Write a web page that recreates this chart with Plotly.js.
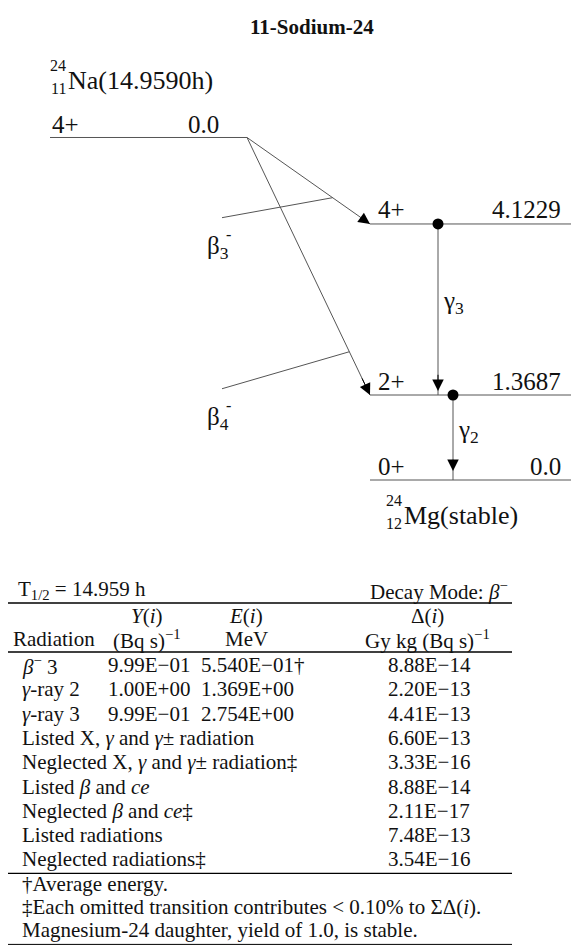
<!DOCTYPE html>
<html>
<head>
<meta charset="utf-8">
<script src="https://cdn.plot.ly/plotly-3.0.1.min.js"></script>
<style>html,body{margin:0;padding:0;background:#fff;}</style>
</head>
<body>
<div id="chart" style="width:571px;height:945px;"></div>
<script>
// ---------------- data ----------------
const chartTitle = '11-Sodium-24';
const parentMass = '24', parentZ = '11', parentSymbol = 'Na', parentHalfLife = '14.9590h';
const parentSpin = '4+', parentLevelLabel = '0.0';
const qValue = 5.5155;                       // MeV: parent level drawn at Q above daughter ground
const daughterMass = '24', daughterZ = '12', daughterSymbol = 'Mg', daughterState = 'stable';
const levelEnergy = [4.1229, 1.3687, 0.0];    // MeV
const levelSpin   = ['4+', '2+', '0+'];
const levelLabel  = ['4.1229', '1.3687', '0.0'];
const betaIndex   = ['3', '4'];
const betaTarget  = [4.1229, 1.3687];
const gammaIndex  = ['3', '2'];
const gammaFrom   = [4.1229, 1.3687];
const gammaTo     = [1.3687, 0.0];

const halfLifeText = '14.959 h';
const headerTop    = ['<i>Y</i>(<i>i</i>)', '<i>E</i>(<i>i</i>)', 'Δ(<i>i</i>)'];
const headerBottom = ['Radiation', '(Bq s)<sup>−1</sup>', 'MeV', 'Gy kg (Bq s)<sup>−1</sup>'];
const radName   = ['<i>β</i><sup>−</sup> 3', '<i>γ</i>-ray 2', '<i>γ</i>-ray 3'];
const radYield  = ['9.99E−01', '1.00E+00', '9.99E−01'];
const radEnergy = ['5.540E−01†', '1.369E+00', '2.754E+00'];
const radDelta  = ['8.88E−14', '2.20E−13', '4.41E−13'];
const sumName   = ['Listed X, <i>γ</i> and <i>γ</i>± radiation',
                   'Neglected X, <i>γ</i> and <i>γ</i>± radiation‡',
                   'Listed <i>β</i> and <i>ce</i>',
                   'Neglected <i>β</i> and <i>ce</i>‡',
                   'Listed radiations',
                   'Neglected radiations‡'];
const sumDelta  = ['6.60E−13', '3.33E−16', '8.88E−14', '2.11E−17', '7.48E−13', '3.54E−16'];
const footnotes = ['†Average energy.',
                   '‡Each omitted transition contributes &lt; 0.10% to ΣΔ(<i>i</i>).',
                   'Magnesium-24 daughter, yield of 1.0, is stable.'];

// ---------------- layout constants ----------------
const W = 571, H = 945;
const pxPerMeV = 62.1, groundPx = 480;
const py = px => 1 - px / H;                 // pixel row -> paper y
const LINE = '#555', INK = '#111';
const SERIF = 'Liberation Serif, Times New Roman, serif';
const diagFont = {family: SERIF, size: 25, color: INK};
const nucFont  = {family: SERIF, size: 26, color: INK};
const smallFont = {family: SERIF, size: 16, color: INK};
const tabFont  = {family: SERIF, size: 21, color: INK};

const parentX = [50, 247], levelX = [370, 571];
const gammaX = [438, 453];
const betaTickT = [0.696, 0.832], betaTickLeft = 222, betaTickDrop = [20, 37];

const traces = [];
const ann = [];
const shapes = [];

// levels
const lvX = [parentX[0], parentX[1], null], lvY = [qValue, qValue, null];
levelEnergy.forEach(e => { lvX.push(levelX[0], levelX[1], null); lvY.push(e, e, null); });
traces.push({x: lvX, y: lvY, mode: 'lines', line: {color: LINE, width: 1}, hoverinfo: 'skip'});

// beta transitions
betaTarget.forEach((e, i) => {
  traces.push({x: [parentX[1], levelX[0]], y: [qValue, e], mode: 'lines',
               line: {color: LINE, width: 1}, hoverinfo: 'skip'});
  const t = betaTickT[i];
  const jx = parentX[1] + t * (levelX[0] - parentX[1]);
  const jy = qValue + t * (e - qValue);
  traces.push({x: [betaTickLeft, jx], y: [jy - betaTickDrop[i] / pxPerMeV, jy], mode: 'lines',
               line: {color: LINE, width: 1}, hoverinfo: 'skip'});
  const bx = parentX[1] + 0.93 * (levelX[0] - parentX[1]);
  const by = qValue + 0.93 * (e - qValue);
  ann.push({x: levelX[0], y: e, ax: bx, ay: by, xref: 'x', yref: 'y', axref: 'x', ayref: 'y',
            showarrow: true, arrowhead: 2, arrowsize: 2.3, arrowwidth: 1, arrowcolor: '#000',
            standoff: 0, text: ''});
});

// gamma transitions
const gammaStandoff = [4, 9];
gammaFrom.forEach((e, i) => {
  traces.push({x: [gammaX[i], gammaX[i]], y: [e, gammaTo[i]], mode: 'lines',
               line: {color: LINE, width: 1}, hoverinfo: 'skip'});
  ann.push({x: gammaX[i], y: gammaTo[i], ax: gammaX[i], ay: gammaTo[i] + 0.35,
            xref: 'x', yref: 'y', axref: 'x', ayref: 'y',
            showarrow: true, arrowhead: 2, arrowsize: 2.3, arrowwidth: 1, arrowcolor: '#000',
            standoff: gammaStandoff[i], text: ''});
});
traces.push({x: gammaX, y: gammaFrom, mode: 'markers',
             marker: {color: '#000', size: 11}, hoverinfo: 'skip'});

// diagram texts
const txt = (o) => ann.push(Object.assign({showarrow: false, xref: 'x', yref: 'y', font: diagFont}, o));
txt({x: parentX[0], y: qValue, yshift: 13, text: parentSpin, xanchor: 'left', yanchor: 'middle'});
txt({x: 221, y: qValue, yshift: 13, text: parentLevelLabel, xanchor: 'right', yanchor: 'middle'});
levelEnergy.forEach((e, i) => {
  txt({x: 376, y: e, yshift: 14, text: levelSpin[i], xanchor: 'left', yanchor: 'middle'});
  txt({x: 563, y: e, yshift: 14, text: levelLabel[i], xanchor: 'right', yanchor: 'middle'});
});
// nuclide labels (paper y)
const ptxt = (o) => ann.push(Object.assign({showarrow: false, xref: 'x', yref: 'paper', font: diagFont}, o));
ptxt({x: 68, y: py(65), text: parentMass, xanchor: 'right', yanchor: 'middle', font: smallFont});
ptxt({x: 68, y: py(88), text: parentZ, xanchor: 'right', yanchor: 'middle', font: smallFont});
ptxt({x: 66, y: py(80), text: parentSymbol + '(' + parentHalfLife + ')', xanchor: 'left', yanchor: 'middle', font: nucFont});
ptxt({x: 404, y: py(500), text: daughterMass, xanchor: 'right', yanchor: 'middle', font: smallFont});
ptxt({x: 404, y: py(523), text: daughterZ, xanchor: 'right', yanchor: 'middle', font: smallFont});
ptxt({x: 402, y: py(515), text: daughterSymbol + '(' + daughterState + ')', xanchor: 'left', yanchor: 'middle', font: nucFont});
// beta labels
const betaLabelPx = [247, 418];
betaIndex.forEach((b, i) => {
  ptxt({x: 205, y: py(betaLabelPx[i]), text: 'β<sub>' + b + '</sub>', xanchor: 'left', yanchor: 'middle'});
  ptxt({x: 224, y: py(betaLabelPx[i] - 12), text: '-', xanchor: 'left', yanchor: 'middle', font: smallFont});
});
// gamma labels
const gammaLabelPx = [302, 432];
gammaIndex.forEach((g, i) => {
  ptxt({x: gammaX[i] + 3, y: py(gammaLabelPx[i]), text: 'γ<sub>' + g + '</sub>', xanchor: 'left', yanchor: 'middle'});
});

// title
ann.push({x: 312, y: py(27), xref: 'x', yref: 'paper', showarrow: false, text: '<b>' + chartTitle + '</b>',
          font: {family: SERIF, size: 21, color: INK}, xanchor: 'center', yanchor: 'middle'});

// ---------------- table ----------------
const tL = 8, tR = 512;
const colLeft = 20, colY = 147, colE = 246, colD = 427;
const ttxt = (o) => ann.push(Object.assign({showarrow: false, xref: 'x', yref: 'paper', font: tabFont, yanchor: 'middle'}, o));
ttxt({x: colLeft - 4, y: py(590), text: 'T<sub>1/2</sub> = ' + halfLifeText, xanchor: 'left'});
ttxt({x: 510, y: py(590), text: 'Decay Mode: <i>β</i><sup>−</sup>', xanchor: 'right'});
shapes.push({type: 'line', xref: 'x', yref: 'paper', x0: tL, x1: tR, y0: py(603), y1: py(603), line: {color: '#000', width: 1.4}});
[colY, colE, colD].forEach((cx, i) => ttxt({x: cx, y: py(616), text: headerTop[i], xanchor: 'center'}));
ttxt({x: 11, y: py(639), text: headerBottom[0], xanchor: 'left'});
[colY, colE, colD].forEach((cx, i) => ttxt({x: cx, y: py(639), text: headerBottom[i + 1], xanchor: 'center'}));
shapes.push({type: 'line', xref: 'x', yref: 'paper', x0: tL, x1: tR, y0: py(652), y1: py(652), line: {color: '#000', width: 1.4}});
const row0 = 665, rowH = 24.3;
const valLeftY = 106, valLeftE = 199, valLeftD = 386;
radName.forEach((n, i) => {
  const yy = py(row0 + i * rowH);
  ttxt({x: colLeft, y: yy, text: n, xanchor: 'left'});
  ttxt({x: valLeftY, y: yy, text: radYield[i], xanchor: 'left'});
  ttxt({x: valLeftE, y: yy, text: radEnergy[i], xanchor: 'left'});
  ttxt({x: valLeftD, y: yy, text: radDelta[i], xanchor: 'left'});
});
sumName.forEach((n, i) => {
  const yy = py(row0 + (i + radName.length) * rowH);
  ttxt({x: colLeft, y: yy, text: n, xanchor: 'left'});
  ttxt({x: valLeftD, y: yy, text: sumDelta[i], xanchor: 'left'});
});
const ruleFoot = row0 + (radName.length + sumName.length - 1) * rowH + 14;
shapes.push({type: 'line', xref: 'x', yref: 'paper', x0: tL, x1: tR, y0: py(ruleFoot), y1: py(ruleFoot), line: {color: '#000', width: 1.3}});
const footH = 23;
footnotes.forEach((f, i) => ttxt({x: colLeft, y: py(ruleFoot + 11 + i * footH), text: f, xanchor: 'left'}));
const ruleBottom = ruleFoot + 11 + 2 * footH + 14;
shapes.push({type: 'line', xref: 'x', yref: 'paper', x0: tL, x1: tR, y0: py(ruleBottom), y1: py(ruleBottom), line: {color: '#000', width: 1}});

const layout = {
  width: W, height: H,
  margin: {l: 0, r: 0, t: 0, b: 0, pad: 0},
  paper_bgcolor: '#fff', plot_bgcolor: '#fff',
  showlegend: false,
  xaxis: {range: [0, W], visible: false, showgrid: false, zeroline: false, fixedrange: true},
  yaxis: {range: [(groundPx - H) / pxPerMeV, groundPx / pxPerMeV], visible: false,
          showgrid: false, zeroline: false, fixedrange: true},
  annotations: ann,
  shapes: shapes
};
Plotly.newPlot('chart', traces, layout, {staticPlot: true, displayModeBar: false});
</script>
</body>
</html>
